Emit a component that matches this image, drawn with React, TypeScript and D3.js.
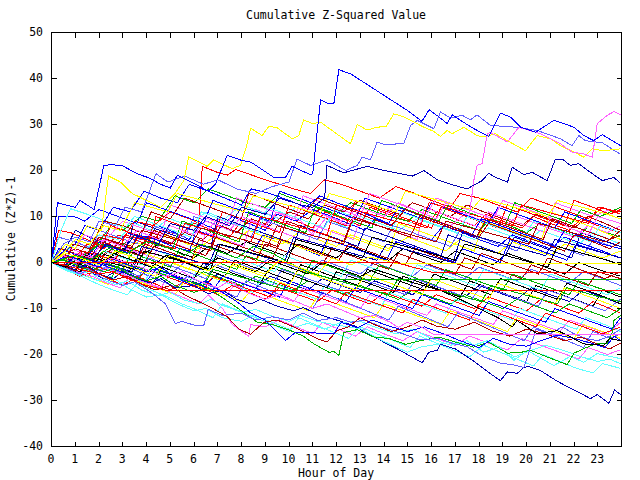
import React from 'react';
import * as d3 from 'd3';

const TITLE = 'Cumulative Z-Squared Value';
const X_LABEL = 'Hour of Day';
const Y_LABEL = 'Cumulative (Z*Z)-1';
const xTickValues = d3.range(0, 24);
const yTickValues = [-40, -30, -20, -10, 0, 10, 20, 30, 40, 50];

const COLORS: Record<string, string> = {
  R: '#ff0000', G: '#00b000', B: '#0000ff', M: '#ff60ff', C: '#60ffff',
  D: '#b00000', Y: '#ffff00', L: '#6060ff', K: '#000000', N: '#0000b0',
};

// each series: flat list of [hour, value] pairs
const m1 = [0,0, 0.4,2, 1,1, 1.5,4, 2.2,3, 2.8,6, 3.5,5, 4.2,3.5, 4.6,7, 5.4,6, 6,8.5, 6.8,7, 7.5,5.5, 8,9, 8.8,7.5, 9.5,10.5, 10.3,9, 11,7.5, 11.5,11, 12.3,9.5, 13,8, 13.4,12, 14.2,10.5, 15,9, 15.8,7.5, 16.2,11, 17,9.5, 17.8,8, 18.3,10.5, 19,9, 19.8,7.5, 20.3,10, 21,8.5, 21.8,7, 22.3,9.5, 23,8, 23.96,6.5];
const m2 = [0,0, 0.5,1.5, 1.2,0.5, 1.8,3, 2.5,8, 3,7, 3.8,10, 4.5,9, 5.2,14.5, 6,13, 6.6,16, 7.4,14.5, 8.2,13, 9,12, 9.6,15, 10.4,13.5, 11.2,12, 12,10.5, 12.6,13, 13.4,11.5, 14.2,10, 15,9, 15.6,11.5, 16.4,10, 17.2,8.5, 18,7, 18.5,9.5, 19.3,8, 20,6.5, 20.6,8.5, 21.4,7, 22.2,5.5, 22.6,8, 23.4,6.5, 23.96,5.5];
const m3 = [0,0, 0.5,-1, 1,1, 1.5,0, 2,4, 2.6,3, 3.2,6.5, 3.9,5, 4.5,8, 5.2,6.5, 5.8,5, 6.3,8.5, 7,7, 7.6,10, 8.3,8.5, 9,7, 9.5,10.5, 10.3,9, 11,11.5, 11.8,10, 12.5,8.5, 13.2,7, 13.6,9.5, 14.4,8, 15.2,6.5, 16,5, 16.5,8, 17.3,6.5, 18,5, 18.8,3.5, 19.4,6, 20.2,4.5, 21,3, 21.6,5.5, 22.4,4, 23.2,2.5, 23.96,1];
const m4 = [0,0, 0.6,-1, 1.2,2, 1.8,1, 2.5,0, 3,3, 3.7,2, 4.4,5.5, 5,4, 5.7,7.5, 6.4,6, 7,9.5, 7.8,8, 8.6,11.5, 9.4,10, 10,8.5, 10.6,12, 11.4,10.5, 12.2,9, 12.8,11.5, 13.6,10, 14.4,12.5, 15.2,11, 16,9.5, 16.8,8, 17.4,10.5, 18.2,9, 19,7.5, 19.6,10, 20.4,8.5, 21.2,7, 22,5.5, 22.6,8, 23.4,6.5, 23.96,8];
const m5 = [0,0, 0.5,2, 1,4, 1.5,3, 2,6, 2.8,5, 3.5,8.5, 4.2,7, 5,9.5, 5.8,8, 6.5,11, 7.3,9.5, 8,12.5, 8.8,11, 9.6,9.5, 10.3,12, 11,10.5, 11.8,9, 12.5,7.5, 13,10, 13.8,8.5, 14.6,7, 15.4,9.5, 16.2,8, 17,6.5, 17.8,5, 18.4,7.5, 19.2,6, 20,4.5, 20.6,7, 21.4,5.5, 22.2,4, 22.8,6.5, 23.5,5, 23.96,4];
const m6 = [0,0, 0.4,1.5, 1,0.5, 1.6,2.5, 2.2,1.5, 2.8,4, 3.5,3, 4.2,5.5, 5,4, 5.6,6.5, 6.4,5, 7,8, 7.8,6.5, 8.4,9.5, 9.2,8, 10,11, 10.8,9.5, 11.5,12.5, 12.3,11, 13,13.5, 13.8,12, 14.6,10.5, 15.2,13, 16,11.5, 16.8,10, 17.5,12.5, 18.2,11, 19,9.5, 19.8,8, 20.4,10.5, 21.2,9, 22,7.5, 22.6,10, 23.3,8.5, 23.96,7];
const m7 = [0,0, 0.5,-1.2, 1,0.5, 1.6,-0.5, 2.2,2.5, 2.8,1.5, 3.5,4.5, 4.2,3, 4.8,6, 5.5,4.5, 6.2,3, 6.8,5.5, 7.6,4, 8.3,7, 9,5.5, 9.7,4, 10.4,6.5, 11.2,5, 12,3.5, 12.6,6, 13.4,4.5, 14.2,3, 15,5.5, 15.8,4, 16.6,2.5, 17.2,5, 18,3.5, 18.8,2, 19.4,4.5, 20.2,3, 21,1.5, 21.6,4, 22.4,2.5, 23.2,1, 23.96,2.5];
const m8 = [0,0, 0.6,-1.5, 1.2,-0.5, 1.8,-2, 2.4,-1, 3,-2.5, 3.6,0.5, 4.3,-1, 5,-2.5, 5.6,0, 6.3,-1.5, 7,1.5, 7.8,0, 8.5,-1.5, 9.2,1, 10,-0.5, 10.8,-2, 11.4,0.5, 12.2,-1, 13,-2.5, 13.6,0, 14.4,-1.5, 15.2,-3, 15.8,-0.5, 16.6,-2, 17.4,-3.5, 18,-1, 18.8,-2.5, 19.6,-4, 20.2,-1.5, 21,-3, 21.8,-4.5, 22.4,-2, 23.2,-3.5, 23.96,-5];
const m9 = [0,0, 0.5,1, 1,-0.5, 1.6,2, 2.3,0.5, 3,3, 3.8,1.5, 4.5,4, 5.2,2.5, 6,1, 6.6,3.5, 7.4,2, 8.2,4.5, 9,3, 9.8,1.5, 10.4,4, 11.2,2.5, 12,1, 12.6,3.5, 13.4,2, 14.2,0.5, 14.8,3, 15.6,1.5, 16.4,0, 17,2.5, 17.8,1, 18.6,-0.5, 19.2,2, 20,0.5, 20.8,-1, 21.6,-2.5, 22.2,0, 23,-1.5, 23.96,-3];
const m10 = [0,0, 0.5,-1.5, 1,-0.5, 1.6,-2, 2.2,-3.5, 2.8,-1.5, 3.5,-3, 4.2,-4.5, 4.8,-2, 5.6,-3.5, 6.4,-5, 7,-2.5, 7.8,-4, 8.6,-5.5, 9.2,-3, 10,-4.5, 10.8,-6, 11.4,-3.5, 12.2,-5, 13,-6.5, 13.6,-4, 14.4,-5.5, 15.2,-7, 15.8,-4.5, 16.6,-6, 17.4,-7.5, 18,-5, 18.8,-6.5, 19.6,-8, 20.2,-5.5, 21,-7, 21.8,-8.5, 22.4,-6, 23.2,-7.5, 23.96,-9];
const m11 = [0,0, 0.6,-1.5, 1.2,-3, 1.8,-2, 2.4,-3.5, 3,-5, 3.6,-3, 4.3,-4.5, 5,-6, 5.6,-4, 6.3,-5.5, 7,-7, 7.6,-5, 8.3,-6.5, 9,-8, 9.6,-5.5, 10.4,-7, 11.2,-8.5, 11.8,-6, 12.6,-7.5, 13.4,-9, 14,-6.5, 14.8,-8, 15.6,-9.5, 16.2,-7, 17,-8.5, 17.8,-10, 18.4,-7.5, 19.2,-9, 20,-10.5, 20.6,-8, 21.4,-9.5, 22.2,-11, 22.8,-8.5, 23.5,-10, 23.96,-11];
const m12 = [0,0, 0.5,0.8, 1.1,-0.6, 1.7,-2, 2.3,0, 3,-1.5, 3.7,-3, 4.3,-1, 5,-2.5, 5.8,-4, 6.4,-2, 7.2,-3.5, 8,-5, 8.6,-3, 9.4,-4.5, 10.2,-6, 10.8,-4, 11.6,-5.5, 12.4,-7, 13,-5, 13.8,-6.5, 14.6,-8, 15.2,-6, 16,-7.5, 16.8,-9, 17.4,-7, 18.2,-8.5, 19,-10, 19.6,-8, 20.4,-9.5, 21.2,-11, 21.8,-9, 22.6,-10.5, 23.4,-12, 23.96,-10];
const m13 = [0,0, 0.3,3, 0.9,2, 1.5,1, 1.9,4.5, 2.7,3, 3.3,2, 3.6,6, 4.4,5, 5.1,3.5, 5.8,2.5, 6.1,7, 6.9,5.5, 7.7,4, 8.5,2.5, 8.9,6, 9.8,4.5, 10.6,3, 11.3,1.5, 11.6,5, 12.5,3.5, 13.3,2, 14.1,0.5, 14.5,4.5, 15.4,3, 16.3,1.5, 17,0, 17.3,3, 18.1,1.5, 18.9,0, 19.3,5, 20.1,3.5, 20.9,2, 21.7,0.5, 22.1,4, 23,2.5, 23.96,1];
const m14 = [0,0, 0.5,-1, 0.8,3, 1.6,1.5, 2.3,0, 2.7,4, 3.5,2.5, 4.3,1, 4.6,5, 5.5,3.5, 6.2,2, 6.5,6.5, 7.3,5, 8.1,3.5, 8.4,9, 9.2,7.5, 10,6, 10.8,4.5, 11.1,8, 11.9,6.5, 12.7,5, 13,9.5, 13.8,8, 14.6,6.5, 15.4,5, 15.7,12, 16.5,10.5, 17.3,9, 18.1,7.5, 18.4,11, 19.2,9.5, 20,8, 20.8,6.5, 21.2,13, 22,11.5, 22.8,10, 23.5,11.5, 23.96,10.5];
const m15 = [0,0, 0.6,-1.2, 1.3,-2.4, 1.6,0, 2.4,-1.5, 3.2,-3, 3.9,-4.5, 4.2,-1.5, 5,-3, 5.8,-4.5, 6.1,-2, 6.9,-3.5, 7.7,-5, 8.5,-6.5, 8.8,-3.5, 9.6,-5, 10.4,-6.5, 11.2,-8, 11.5,-5, 12.3,-6.5, 13.1,-8, 13.9,-9.5, 14.2,-6.5, 15,-8, 15.8,-9.5, 16.6,-11, 17,-8, 17.8,-9.5, 18.6,-11, 19.4,-12.5, 19.7,-10, 20.5,-11.5, 21.3,-13, 22.1,-14.5, 22.5,-12, 23.3,-13.5, 23.96,-15];
const m16 = [0,0, 0.4,1.8, 1.1,0.5, 1.9,-1, 2.3,2.5, 3.1,1, 3.9,-0.5, 4.3,3.5, 5.1,2, 5.9,0.5, 6.2,5, 7,3.5, 7.8,2, 8.6,0.5, 9,4, 9.8,2.5, 10.6,1, 11.4,-0.5, 11.8,3, 12.6,1.5, 13.4,0, 14.2,-1.5, 14.6,2, 15.4,0.5, 16.2,-1, 17,-2.5, 17.4,1, 18.2,-0.5, 19,-2, 19.8,-3.5, 20.2,-0.5, 21,-2, 21.8,-3.5, 22.6,-5, 23,-2, 23.96,-3.5];
const m17 = [0,0, 0.5,-1, 1,-2, 1.4,1, 2.2,-0.5, 3,-2, 3.4,3, 4.2,1.5, 5,0, 5.8,-1.5, 6.2,4, 7,2.5, 7.8,1, 8.6,-0.5, 9,6, 9.8,4.5, 10.6,3, 11.4,1.5, 11.8,7, 12.6,5.5, 13.4,4, 14.2,2.5, 14.6,8.5, 15.4,7, 16.2,5.5, 17,4, 17.8,2.5, 18.2,9, 19,7.5, 19.8,6, 20.6,4.5, 21,11, 21.8,9.5, 22.6,8, 23.3,6.5, 23.96,5];
const m18 = [0,0, 0.3,5.5, 1,4.5, 1.7,3, 2,7, 2.8,5.5, 3.6,4, 4,8.5, 4.8,7, 5.6,5.5, 6,10, 6.8,8.5, 7.6,7, 8.4,5.5, 8.8,9.5, 9.6,8, 10.4,6.5, 11.2,5, 11.6,9, 12.4,7.5, 13.2,6, 14,4.5, 14.4,8, 15.2,6.5, 16,5, 16.8,3.5, 17.2,7, 18,5.5, 18.8,4, 19.6,2.5, 20,6, 20.8,4.5, 21.6,3, 22.4,1.5, 22.8,5, 23.6,3.5, 23.96,3];
const m19 = [0,0, 0.6,-1, 1.2,-2, 1.6,0.5, 2.4,-1, 3.2,-2.5, 3.6,1, 4.4,-0.5, 5.2,-2, 6,-3.5, 6.4,0, 7.2,-1.5, 8,-3, 8.8,-4.5, 9.2,-1, 10,-2.5, 10.8,-4, 11.6,-5.5, 12,-2, 12.8,-3.5, 13.6,-5, 14.4,-6.5, 14.8,-3, 15.6,-4.5, 16.4,-6, 17.2,-7.5, 17.6,-4, 18.4,-5.5, 19.2,-7, 20,-8.5, 20.4,-5, 21.2,-6.5, 22,-8, 22.8,-9.5, 23.2,-6, 23.96,-7.5];
const m20 = [0,0, 0.5,2, 1,7, 1.6,5.5, 2.4,4, 3.1,2.5, 3.5,9, 4.3,7.5, 5.1,6, 5.9,4.5, 6.7,3, 7,10, 7.8,8.5, 8.6,7, 9.4,5.5, 10.2,4, 10.5,8, 11.3,6.5, 12.1,5, 12.9,3.5, 13.2,7.5, 14,6, 14.8,4.5, 15.6,3, 16.4,1.5, 16.7,6, 17.5,4.5, 18.3,3, 19.1,1.5, 19.5,5.5, 20.3,4, 21.1,2.5, 21.9,1, 22.3,6.5, 23.1,5, 23.96,3.5];
const m21 = [0,0, 0.3,7, 0.8,6.5, 1.5,5, 2.1,3.5, 2.5,8, 3.3,6.5, 4.1,5, 4.4,10, 5.2,8.5, 6,7, 6.8,5.5, 7.2,11, 8,9.5, 8.8,8, 9.6,6.5, 10,12.5, 10.8,11, 11.6,9.5, 12.4,8, 12.8,13.5, 13.6,12, 14.4,10.5, 15.2,9, 16,7.5, 16.4,12, 17.2,10.5, 18,9, 18.8,7.5, 19.2,12.5, 20,11, 20.8,9.5, 21.6,8, 22,13.5, 22.8,12, 23.5,10.5, 23.96,11.5];
const m22 = [0,0, 0.5,1.5, 1,3, 1.5,2, 2.2,6, 3,5, 3.5,9, 4.3,8, 5,11, 5.8,9.5, 6.2,8.5, 6.35,20.9, 6.98,19.6, 7.4,19, 7.75,20.2, 8.38,19.1, 9,18, 9.6,17, 10.2,16, 10.9,15, 11.5,18, 12.2,17, 13,15.5, 13.8,14, 14.5,16.5, 15.3,15, 16,13.5, 16.8,12, 17.2,15, 18,14, 18.8,12.5, 19.6,11, 20.2,14, 21,12.5, 21.8,11, 22.6,9.5, 23.2,12, 23.96,10.5];
const m23 = [0,0, 0.5,-0.8, 1,-1.8, 1.5,1, 2.2,0, 3,-1.5, 3.4,2, 4.2,0.5, 5,-1, 5.4,3, 6.2,1.5, 7,0, 7.8,-1.5, 8.2,1.5, 9,0, 9.8,-1.5, 10.6,-3, 11,0.5, 11.8,-1, 12.6,-2.5, 13.4,-4, 13.8,-0.5, 14.6,-2, 15.4,-3.5, 16.2,-5, 16.6,-1.5, 17.4,-3, 18.2,-4.5, 19,-6, 19.4,-2.5, 20.2,-4, 21,-5.5, 21.8,-7, 22.2,-4, 23,-5.5, 23.96,-7];
const m24 = [0,0, 0.6,-1.2, 1.2,-2.4, 1.8,-3.6, 2.2,-1, 3,-2.5, 3.8,-4, 4.6,-5.5, 5,-2.5, 5.8,-4, 6.6,-5.5, 7.4,-7, 7.8,-4, 8.6,-5.5, 9.4,-7, 10.2,-8.5, 10.6,-5.5, 11.4,-7, 12.2,-8.5, 13,-10, 13.4,-7, 14.2,-8.5, 15,-10, 15.8,-11.5, 16.2,-9, 17,-10.5, 17.8,-12, 18.6,-13.5, 19,-10.5, 19.8,-12, 20.6,-13.5, 21.4,-15, 21.8,-12.5, 22.6,-14, 23.4,-15.5, 23.96,-13];
const m25 = [0,0, 0.5,1.5, 1.1,0.5, 1.8,-1, 2.2,2.5, 3,1, 3.8,-0.5, 4.2,3, 5,1.5, 5.8,0, 6.6,-1.5, 7,2.5, 7.8,1, 8.6,-0.5, 9.4,-2, 9.8,1.5, 10.6,0, 11.4,-1.5, 12.2,-3, 12.6,0.5, 13.4,-1, 14.2,-2.5, 15,-4, 15.4,-0.5, 16.2,-2, 17,-3.5, 17.8,-5, 18.2,-1.5, 19,-3, 19.8,-4.5, 20.6,-6, 21,-2.5, 21.8,-4, 22.6,-5.5, 23.4,-7, 23.96,-5.5];
const m26 = [0,0, 0.4,3, 1,2, 1.7,0.5, 2.1,4.5, 2.9,3, 3.7,1.5, 4.1,6, 4.9,4.5, 5.7,3, 6.5,1.5, 6.9,5.5, 7.7,4, 8.5,2.5, 9.3,1, 9.7,5, 10.5,3.5, 11.3,2, 12.1,0.5, 12.5,4, 13.3,2.5, 14.1,1, 14.9,-0.5, 15.3,3, 16.1,1.5, 16.9,0, 17.7,-1.5, 18.1,2, 18.9,0.5, 19.7,-1, 20.5,-2.5, 20.9,1, 21.7,-0.5, 22.5,-2, 23.3,-3.5, 23.96,-2];
const m27 = [0,0, 0.6,-1.2, 1.2,-2.4, 1.8,-3.6, 2.4,-4.8, 2.8,-2.5, 3.6,-4, 4.4,-5.5, 5.2,-7, 5.6,-4, 6.4,-5.5, 7.2,-7, 8,-8.5, 8.4,-6, 9.2,-7.5, 10,-9, 10.8,-10.5, 11.2,-7.5, 12,-9, 12.8,-10.5, 13.6,-12, 14,-9, 14.8,-10.5, 15.6,-12, 16.4,-13.5, 16.8,-10.5, 17.6,-12, 18.4,-13.5, 19.2,-15, 19.6,-12, 20.4,-13.5, 21.2,-15, 22,-16.5, 22.4,-13.5, 23.2,-15, 23.96,-16.5];
const m28 = [0,0, 0.5,-1, 1,-2, 1.3,1.5, 2.1,0, 2.9,-1.5, 3.7,-3, 4.1,1, 4.9,-0.5, 5.7,-2, 6.5,-3.5, 6.9,-0.5, 7.7,-2, 8.5,-3.5, 9.3,-5, 9.7,-1.5, 10.5,-3, 11.3,-4.5, 12.1,-6, 12.5,-2.5, 13.3,-4, 14.1,-5.5, 14.9,-7, 15.3,-3.5, 16.1,-5, 16.9,-6.5, 17.7,-8, 18.1,-5, 18.9,-6.5, 19.7,-8, 20.5,-9.5, 20.9,-6, 21.7,-7.5, 22.5,-9, 23.3,-10.5, 23.96,-8];
const m29 = [0,0, 0.5,1, 1.1,-0.2, 1.7,-1.4, 2.1,2, 2.9,0.5, 3.7,-1, 4.5,-2.5, 4.9,1.5, 5.7,0, 6.5,-1.5, 7.3,-3, 7.7,0.5, 8.5,-1, 9.3,-2.5, 10.1,-4, 10.5,-0.5, 11.3,-2, 12.1,-3.5, 12.9,-5, 13.3,-1.5, 14.1,-3, 14.9,-4.5, 15.7,-6, 16.1,-2.5, 16.9,-4, 17.7,-5.5, 18.5,-7, 18.9,-3.5, 19.7,-5, 20.5,-6.5, 21.3,-8, 21.7,-4.5, 22.5,-6, 23.3,-7.5, 23.96,-9];
const m30 = [0,0, 0.3,10, 1,9.9, 1.4,9, 2,11.5, 2.8,10, 3.6,8.5, 4,13, 4.8,11.5, 5.6,10, 6.4,8.5, 6.8,13.5, 7.6,12, 8.4,10.5, 9.2,9, 9.6,15.5, 10.4,14, 11.2,12.5, 12,11, 12.8,9.5, 13.2,14, 14,12.5, 14.8,11, 15.6,9.5, 16,13, 16.8,11.5, 17.6,10, 18.4,8.5, 18.8,12, 19.6,10.5, 20.4,9, 21.2,7.5, 21.6,11, 22.4,9.5, 23.2,8, 23.96,6.5];
const m31 = [0,0, 0.5,1.5, 1,3, 1.4,6, 2.2,4.5, 3,9, 3.8,7.5, 4.6,6, 5,12.5, 5.8,11, 6.6,9.5, 7.4,8, 7.8,14, 8.6,12.5, 9.4,11, 10.2,9.5, 10.6,14.5, 11.4,13, 12.2,11.5, 13,10, 13.4,15, 14.2,13.5, 15,12, 15.8,10.5, 16.2,14, 17,12.5, 17.8,11, 18.6,9.5, 19,13.5, 19.8,12, 20.6,10.5, 21.4,9, 21.8,7.5, 22.6,6, 23,10, 23.96,8.5];
const m32 = [0,0, 0.6,2, 1.2,1, 2,4, 2.8,3, 3.5,6, 4.3,4.5, 5.1,3, 5.5,9, 6.3,7.5, 7.1,6, 7.9,4.5, 8.3,11, 9.1,9.5, 9.9,8, 10.7,6.5, 11.1,12, 11.9,10.5, 12.7,9, 13.5,7.5, 13.9,13.5, 14.7,12, 15.5,10.5, 16.3,9, 16.7,12.5, 17.5,11, 18.3,9.5, 19.1,8, 19.5,13, 20.3,11.5, 21.1,10, 21.9,8.5, 22.3,11.5, 23.1,10, 23.96,12];
const m33 = [0,0, 0.4,7, 0.8,11.7, 1.5,10.5, 2.3,9, 3.1,7.5, 3.5,10, 4.3,8.5, 5.1,7, 5.9,5.5, 6.3,11, 7.1,9.5, 7.9,8, 8.7,6.5, 9.1,12, 9.9,10.5, 10.7,9, 11.5,7.5, 11.9,11.5, 12.7,10, 13.5,8.5, 14.3,7, 14.7,11, 15.5,9.5, 16.3,8, 17.1,6.5, 17.5,10, 18.3,8.5, 19.1,7, 19.9,5.5, 20.3,9, 21.1,7.5, 21.9,6, 22.7,4.5, 23.1,8, 23.96,6.5];
const m34 = [0,0, 0.5,-0.5, 1,2, 1.8,0.5, 2.3,5, 3.1,3.5, 3.9,2, 4.3,7, 5.1,5.5, 5.9,4, 6.7,2.5, 7.1,8, 7.9,6.5, 8.7,5, 9.5,3.5, 9.9,9, 10.7,7.5, 11.5,6, 12.3,4.5, 12.7,10, 13.5,8.5, 14.3,7, 15.1,5.5, 15.5,10, 16.3,8.5, 17.1,7, 17.9,5.5, 18.3,9.5, 19.1,8, 19.9,6.5, 20.7,5, 21.1,9.5, 21.9,8, 22.7,6.5, 23.5,5, 23.96,7];
const m35 = [0,0, 0.5,-1, 1,-2, 1.5,-3, 2,-1, 2.8,-2.5, 3.6,-4, 4,-1.5, 4.8,-3, 5.6,-4.5, 6.4,-6, 6.8,-3, 7.6,-4.5, 8.4,-6, 9.2,-7.5, 9.6,-4.5, 10.4,-6, 11.2,-7.5, 12,-9, 12.4,-6.5, 13.2,-8, 14,-9.5, 14.8,-11, 15.2,-8, 16,-9.5, 16.8,-11, 17.6,-12.5, 18,-9.5, 18.8,-11, 19.6,-12.5, 20.4,-14, 20.8,-11, 21.6,-12.5, 22.4,-14, 23.2,-15.5, 23.96,-14];
const m36 = [0,0, 0.6,-1.2, 1.2,-2.4, 1.6,0.5, 2.4,-1, 3.2,-2.5, 4,-4, 4.4,-1.5, 5.2,-3, 6,-4.5, 6.8,-6, 7.2,-3, 8,-4.5, 8.8,-6, 9.6,-7.5, 10,-4, 10.8,-5.5, 11.6,-7, 12.4,-8.5, 12.8,-5.5, 13.6,-7, 14.4,-8.5, 15.2,-10, 15.6,-7, 16.4,-8.5, 17.2,-10, 18,-11.5, 18.4,-8.5, 19.2,-10, 20,-11.5, 20.8,-13, 21.2,-10, 22,-11.5, 22.8,-13, 23.6,-14.5, 23.96,-12];
const m37 = [0,0, 0.5,1, 1,-0.5, 1.5,-2, 2,1.5, 2.8,0, 3.6,-1.5, 4.4,-3, 4.8,0.5, 5.6,-1, 6.4,-2.5, 7.2,-4, 7.6,-0.5, 8.4,-2, 9.2,-3.5, 10,-5, 10.4,-1.5, 11.2,-3, 12,-4.5, 12.8,-6, 13.2,-2.5, 14,-4, 14.8,-5.5, 15.6,-7, 16,-3.5, 16.8,-5, 17.6,-6.5, 18.4,-8, 18.8,-4.5, 19.6,-6, 20.4,-7.5, 21.2,-9, 21.6,-5.5, 22.4,-7, 23.2,-8.5, 23.96,-10];
const m38 = [0,0, 0.4,2, 1,4, 1.4,8, 2,7, 2.6,12, 3.3,11, 3.9,15.5, 4.6,14, 5.3,13, 5.8,17, 6.6,15.5, 7.3,14, 8,12.5, 8.4,16, 9.2,15, 10,13.5, 10.7,12, 11.3,14.5, 12,13, 12.8,11.5, 13.5,10, 14.2,8.5, 14.6,12, 15.4,10.5, 16.2,9, 17,7.5, 17.7,6, 18.1,9.5, 18.9,8, 19.7,6.5, 20.5,5, 21.2,3.5, 21.6,7, 22.4,5.5, 23.2,4, 23.96,3];
const m39 = [0,0, 0.5,-1, 0.9,4, 1.6,3, 2.2,9, 3,8, 3.8,6.5, 4.2,11, 5,9.5, 5.6,14, 6.4,12.5, 7.2,11, 8,9.5, 8.3,15, 9.1,13.5, 9.8,12, 10.6,10.5, 11.2,14, 12,12.5, 12.8,11, 13.5,9.5, 14.3,8, 14.9,11.5, 15.7,10, 16.5,8.5, 17.3,7, 18,5.5, 18.4,8.5, 19.2,7, 20,5.5, 20.8,4, 21.6,2.5, 22,6, 22.8,4.5, 23.5,3, 23.96,4.5];
const m40 = [0,0, 0.6,-1.2, 1.2,-2.2, 1.8,-3.2, 2.3,-4.4, 2.9,-5.5, 3.3,-3, 4,-4.5, 4.8,-6, 5.5,-7.5, 6.2,-9, 6.6,-7, 7.2,-10, 7.6,-13.4, 8.31,-16.1, 8.38,-13.5, 9,-14, 9.6,-12.5, 10.3,-14, 11,-15.5, 11.4,-13, 12.1,-14.5, 12.8,-16, 13.3,-14, 14,-15.5, 14.8,-17, 15.4,-15, 16.2,-16.5, 17,-18, 17.6,-16, 18.4,-17.5, 19.2,-19, 19.8,-16.5, 20.6,-18, 21.4,-19.5, 22.2,-21, 22.6,-18.5, 23.4,-20, 23.96,-19];
const m41 = [0,0, 0.5,-1.2, 1,-2.4, 1.5,-3.6, 2,-4.8, 2.6,-6, 3.2,-7, 3.6,-4.5, 4.2,-6, 4.9,-7.5, 5.5,-9, 6.2,-10.5, 6.8,-12, 7.2,-9, 7.9,-10.5, 8.6,-12, 9.3,-13.5, 10,-15, 10.4,-12, 11.1,-13.5, 11.8,-15, 12.5,-16.5, 13,-14, 13.7,-15.5, 14.4,-17, 15.1,-18.5, 15.5,-16, 16.2,-17.5, 16.9,-19, 17.6,-20.5, 18.2,-18, 18.9,-19.5, 19.6,-21, 20.3,-22.5, 20.7,-20, 21.4,-21.5, 22.1,-23, 22.8,-24, 23.2,-22, 23.96,-23];
const m42 = [0,0, 0.5,1, 1,-0.2, 1.5,-1.4, 2,-2.6, 2.5,0.5, 3.2,-1, 3.9,-2.5, 4.6,-4, 5.3,-5.5, 5.7,-3, 6.4,-4.5, 7.1,-6, 7.8,-7.5, 8.2,-4, 8.9,-5.5, 9.6,-7, 10.3,-8.5, 11,-10, 11.4,-6.5, 12.1,-8, 12.8,-9.5, 13.5,-11, 14.2,-12.5, 14.6,-9.5, 15.3,-11, 16,-12.5, 16.7,-14, 17.1,-11, 17.8,-12.5, 18.5,-14, 19.2,-15.5, 19.9,-17, 20.3,-14, 21,-15.5, 21.7,-17, 22.4,-18.5, 22.8,-15, 23.5,-16.5, 23.96,-15.5];
const m43 = [0,0, 0.5,-1, 1,-2, 1.3,1, 2,0, 2.7,-1, 3.4,-2, 3.8,3.5, 4.5,2.5, 5.2,1.5, 5.9,0.5, 6.6,-0.5, 7,4, 7.7,3, 8.4,2, 9.1,1, 9.8,0, 10.2,5.5, 10.9,4.5, 11.6,3.5, 12.3,2.5, 13,1.5, 13.7,0.5, 14.1,4, 14.8,3, 15.5,2, 16.2,1, 16.9,0, 17.3,6.5, 18,5.5, 18.7,4.5, 19.4,3.5, 20.1,2.5, 20.8,1.5, 21.2,5, 21.9,4, 22.6,3, 23.3,2, 23.96,1];
const m44 = [0,0, 0.5,-1, 1,-2, 1.3,2.5, 2,1.5, 2.7,0.5, 3.1,6, 3.8,5, 4.5,4, 5.2,3, 5.6,8.5, 6.3,7.5, 7,6.5, 7.7,5.5, 8.4,4.5, 8.8,10, 9.5,9, 10.2,8, 10.9,7, 11.6,6, 12,12.5, 12.7,11.5, 13.4,10.5, 14.1,9.5, 14.8,8.5, 15.5,7.5, 15.9,13, 16.6,12, 17.3,11, 18,10, 18.7,9, 19.4,8, 19.8,12.5, 20.5,11.5, 21.2,10.5, 21.9,9.5, 22.6,8.5, 23,12, 23.96,11];
const m45 = [0,0, 0.5,0.5, 1,-0.5, 1.5,-1.5, 2,-2.5, 2.5,-3.5, 2.9,0, 3.6,-1, 4.3,-2, 5,-3, 5.7,-4, 6.4,-5, 6.8,-1.5, 7.5,-2.5, 8.2,-3.5, 8.9,-4.5, 9.6,-5.5, 10.3,-6.5, 10.7,-2, 11.4,-3, 12.1,-4, 12.8,-5, 13.5,-6, 14.2,-7, 14.6,-3.5, 15.3,-4.5, 16,-5.5, 16.7,-6.5, 17.4,-7.5, 18.1,-8.5, 18.5,-5, 19.2,-6, 19.9,-7, 20.6,-8, 21.3,-9, 21.7,-5.5, 22.4,-6.5, 23.1,-7.5, 23.96,-8.5];
const m46 = [0,0, 0.5,1.5, 1,3, 1.5,2, 2,5.5, 2.7,4.5, 3.4,3.5, 3.8,7, 4.5,6, 5.2,5, 5.9,4, 6.3,7.5, 7,6.5, 7.7,5.5, 8.4,4.5, 9.1,3.5, 9.5,8, 10.2,7, 10.9,6, 11.6,5, 12.3,4, 12.7,9.5, 13.4,8.5, 14.1,7.5, 14.8,6.5, 15.5,5.5, 16.2,4.5, 16.6,9, 17.3,8, 18,7, 18.7,6, 19.4,5, 20.1,4, 20.5,8.5, 21.2,7.5, 21.9,6.5, 22.6,5.5, 23.3,4.5, 23.96,6];
const m47 = [0,0, 0.5,2, 1,5, 1.6,4, 2.2,8, 2.9,7, 3.5,13, 4.2,12, 4.9,11, 5.3,15, 6,14, 6.7,13, 7.4,12, 8.1,11, 8.5,14.5, 9.2,13.5, 9.9,12.5, 10.6,11.5, 11.3,10.5, 11.7,15, 12.4,14, 13.1,13, 13.8,12, 14.5,11, 14.9,15.5, 15.6,14.5, 16.3,13.5, 17,12.5, 17.7,11.5, 18.1,14, 18.8,13, 19.5,12, 20.2,11, 20.9,10, 21.3,13.5, 22,12.5, 22.7,11.5, 23.4,10.5, 23.96,9.5];
const m48 = [0,0, 0.5,-1, 1,-2, 1.4,1.5, 2.1,0.5, 2.8,-0.5, 3.5,-1.5, 3.9,2.5, 4.6,1.5, 5.3,0.5, 6,-0.5, 6.7,-1.5, 7.1,4, 7.8,3, 8.5,2, 9.2,1, 9.9,0, 10.3,5, 11,4, 11.7,3, 12.4,2, 13.1,1, 13.5,5.5, 14.2,4.5, 14.9,3.5, 15.6,2.5, 16.3,1.5, 17,0.5, 17.4,4, 18.1,3, 18.8,2, 19.5,1, 20.2,0, 20.9,-1, 21.3,3.5, 22,2.5, 22.7,1.5, 23.4,0.5, 23.96,-0.5];

const t1 = [0,0, 0.25,13, 0.6,12.5, 1,12, 1.2,13.5, 1.8,11.5, 2.2,21, 2.5,21.3, 3,21, 3.6,19.3, 4.1,18.4, 4.6,17, 5,16.2, 5.3,19, 6,17.2, 6.6,15.5, 6.9,17, 7.4,23.3, 8,22.2, 8.4,21.8, 9.36,18.5, 9.85,18.5, 10.13,20.9, 10.9,19.1, 11,19.3, 11.33,35.4, 11.63,34.6, 11.89,34.6, 12.1,41.9, 12.6,41, 13.2,39, 13.8,37, 14.4,35, 15,33, 15.6,30.7, 15.9,33.2, 16.3,31.7, 16.66,30.2, 16.87,32.1, 17.22,30.9, 17.78,29.1, 18.41,27.4, 18.9,32.5, 19.33,31.6, 19.75,29.4, 20.38,28.3, 21.15,30.9, 21.57,30.2, 22,29.4, 22.41,27.6, 22.83,26.5, 23.19,27.8, 23.96,25.4];
const t2 = [0,0, 0.5,4, 1,5.5, 1.6,4.5, 2,9, 2.7,8, 3.1,12, 3.8,11, 4.4,19.3, 4.9,17.5, 5.6,18.8, 6.4,17, 7,18, 7.8,16, 8.6,15, 9.3,16.5, 10,17.5, 10.34,22.5, 10.9,21.1, 11.63,22.3, 12.38,20, 12.87,21.1, 13.08,22.9, 13.43,22.3, 13.71,26.2, 13.99,25.7, 14.83,25.8, 15.12,29.8, 15.4,30.9, 16.1,29.1, 16.38,32.7, 16.8,31.4, 17.29,32, 17.64,31, 17.92,32.1, 18.48,29.8, 19.6,29.4, 20.45,28.7, 21.43,26.9, 21.92,25.4, 22.2,27.6, 22.48,26.5, 23.2,26, 23.96,23.5];
const t3 = [0,0, 0.6,4, 1,3, 1.5,8, 2.1,7, 2.4,18.8, 2.9,17.5, 3.4,15, 4,13.5, 4.6,12, 5.2,15, 5.57,17.8, 5.78,23, 6.56,20.9, 6.83,22.3, 7.6,20.4, 7.96,21.1, 8.24,25.8, 8.38,29.2, 8.87,27.6, 9.15,29.6, 9.5,29.3, 10.13,26.9, 10.41,27.6, 10.62,31, 10.98,30.2, 11.33,30.5, 12.59,25.8, 12.87,30, 13.29,28.8, 13.7,29.4, 14.1,29.6, 14.41,32.3, 14.83,31.7, 15.68,29.4, 16.1,28.5, 16.38,27.4, 16.66,28.7, 16.87,28, 17.36,29.4, 17.92,27.6, 18.2,27.3, 18.69,28, 19.19,26.5, 19.96,24.3, 20.45,27.6, 21.01,26.9, 21.43,25.4, 22,24, 22.41,22.9, 22.77,24.7, 23.26,24.3, 23.96,24.7];
const t4 = [0,0, 0.6,-1, 1,2, 1.7,1, 2.2,5, 3,3.5, 3.6,7, 4.5,5, 5,8, 6,6, 6.5,9, 7.5,7, 8,10, 9,8, 9.5,11, 10.5,9, 11,6, 11.6,10, 12.5,8, 13,12, 14,10, 14.6,13, 15.5,11, 16.2,9.5, 16.6,13, 17.2,11, 17.6,10.5, 17.78,17.8, 17.92,21.1, 18.13,21.5, 18.35,28, 18.48,28.3, 19.19,26.2, 19.68,29.4, 20.59,28, 21.43,25.8, 21.92,24, 22.41,23.6, 22.77,22.9, 22.98,30.2, 23.4,32, 23.68,32.8, 23.96,32.1];
const t5 = [0,0, 0.5,-1, 1,1.5, 1.7,0.5, 2.3,4, 3,2.5, 3.5,6, 4.5,4, 5,8.5, 6,7, 6.5,10, 7.5,8, 8,12, 9,10.5, 9.6,14, 10.5,12.5, 11,12, 11.5,14, 11.6,21.1, 12.3,19.5, 13.29,20.9, 14,20, 14.5,19.5, 15.2,18.8, 15.68,20, 16.24,18, 16.8,17, 17.5,16, 18.13,17.8, 18.41,19.4, 18.69,18.5, 19.2,17.5, 19.4,20.7, 19.89,19.1, 20.24,19.6, 20.87,17.8, 21.22,22.5, 21.5,22.5, 21.85,21.1, 22.2,21.5, 22.69,19.6, 23.19,17.8, 23.68,18.5, 23.96,17.2];
const b1 = [0,0, 0.5,-1, 1,-1.5, 1.5,-0.5, 2,-2.5, 2.6,-3.5, 3,-2, 3.6,-3.5, 4.2,-4.5, 4.6,-3.5, 5.2,-5.5, 6,-5, 6.6,-6.8, 7.2,-6, 7.8,-8, 8.4,-9, 8.8,-8, 9.5,-9.5, 10.2,-10.5, 10.6,-9.8, 11.2,-11.2, 12,-12.5, 12.73,-13.7, 13.57,-16.2, 14.6,-18.9, 15.61,-21.8, 15.89,-19.5, 16.24,-19.1, 16.38,-17.8, 17.01,-18.8, 17.71,-21.2, 18.3,-23.5, 18.9,-25.7, 19.19,-23.8, 19.61,-24.1, 19.89,-22.8, 20.1,-22.6, 20.59,-23.5, 21.2,-25.5, 21.71,-27, 22.2,-28.2, 22.69,-29.6, 22.98,-28.7, 23.47,-30.6, 23.71,-27.7, 23.96,-28.7];
const c1 = [0,0, 0.5,-1.5, 1,-2.5, 1.6,-2, 2,-3.5, 2.7,-4.8, 3.2,-4, 3.8,-6, 4.5,-7.2, 5,-6.5, 5.6,-8.2, 6.3,-9, 6.7,-8, 7.3,-9.5, 8,-10.8, 8.6,-10.2, 9.2,-11.5, 10,-12.8, 10.5,-11.5, 11.2,-12.8, 12,-13.6, 13.01,-14.4, 13.85,-16.8, 14.98,-19.5, 15.54,-18.4, 16.24,-17.8, 17,-17.2, 17.78,-18, 18.35,-17, 18.9,-18.5, 19.47,-21.3, 20.03,-19.1, 20.6,-20.8, 21.15,-22.4, 21.85,-20.4, 22.41,-21.7, 22.98,-19.8, 23.4,-20.3, 23.96,-20.9];
const c2 = [0,0, 1,-2.2, 2,-4, 2.5,-3, 3.2,-5.5, 4,-7.5, 4.6,-7, 5.3,-9, 6,-10.5, 6.5,-10, 7.2,-12, 8,-12.8, 8.5,-11.5, 9.3,-13, 10,-14.5, 10.8,-13.2, 11.5,-14.5, 12.2,-13, 13,-12.8, 13.6,-14, 14.5,-15.5, 15.2,-14.5, 16,-16.5, 16.8,-18, 17.5,-17, 18.2,-19.5, 18.8,-18.5, 19.5,-20.5, 20,-19.5, 20.8,-18, 21.5,-19, 22.3,-20.5, 23,-21.5, 23.5,-21, 23.96,-22];
const g1 = [0,0, 0.5,-1, 1,0.5, 1.6,-0.8, 2.2,-2, 2.8,-1, 3.4,-3, 4,-4, 4.6,-3, 5.2,-5, 6,-6.5, 6.6,-5.5, 7.3,-8, 8,-10.5, 8.66,-13, 9.3,-13.5, 10.06,-14.8, 10.6,-16, 11.05,-17.7, 11.68,-19.5, 11.9,-19.4, 12.1,-20.2, 12.31,-15.2, 12.87,-14.6, 13.57,-16.2, 14.2,-16.5, 14.91,-17.8, 15.54,-17, 16.31,-16.2, 17,-17.3, 17.78,-18.4, 18.41,-17.3, 19.19,-19.7, 19.7,-19.6, 20.17,-19.1, 20.9,-20.6, 21.71,-22.2, 22,-19.7, 22.56,-18.4, 23,-17.5, 23.4,-17.7, 23.61,-15.2, 23.68,-12.6, 23.96,-11.5];
const l2 = [0,0, 0.6,-1.2, 1.2,-2.5, 1.6,-1.5, 2.2,-3.5, 3,-5, 3.5,-4.2, 4.2,-6.5, 4.8,-9, 5.22,-13.3, 5.5,-12.8, 6.06,-13.7, 6.41,-13.7, 6.6,-10.2, 7.2,-11.5, 8,-11, 8.6,-12.5, 9.3,-11.8, 10,-12.5, 10.6,-11, 11.2,-12.6, 12,-12, 12.6,-13, 13.2,-12.5, 14,-14.2, 14.8,-15.5, 15.5,-16.8, 16.3,-16.5, 16.9,-17.6, 17.5,-18.3, 18.2,-20.5, 18.9,-21.9, 19.4,-22.2, 19.89,-22.8, 20.1,-19.5, 20.4,-14.5, 21,-15.5, 21.5,-14, 22,-15.5, 22.5,-16.5, 23,-17, 23.5,-16, 23.96,-14.5];
const d1 = [0,0, 0.5,-0.8, 1,-1.8, 1.5,-1, 2,-2.5, 2.6,-3.8, 3.2,-3, 3.8,-4.8, 4.4,-6, 5,-5, 5.6,-7, 6.2,-8.5, 6.8,-10, 7.4,-11.8, 7.9,-14.5, 8.38,-15.6, 8.94,-13, 9.5,-12.5, 10.2,-14, 10.8,-15.5, 11.19,-16.6, 11.6,-17.3, 12.03,-14.8, 12.5,-14, 13,-12, 13.6,-13.5, 14.3,-15, 15,-14, 15.6,-12.5, 16.2,-13.8, 17,-14.5, 17.8,-13, 18.5,-14.8, 19.3,-16, 20,-14.5, 20.8,-15.5, 21.6,-17, 22.3,-16.2, 23,-17.8, 23.5,-18.8, 23.96,-17.5];
const b2 = [0,0, 0.7,1.5, 1.2,0.5, 2,-1, 2.5,1, 3.2,-0.5, 4,-2, 4.6,-1, 5.3,-3.5, 6,-5, 6.5,-4, 7.2,-6.5, 7.8,-8.5, 8.4,-11, 9,-12.5, 9.85,-17, 10.27,-15.2, 11,-15.3, 11.89,-15.5, 12.2,-13, 12.9,-14.2, 13.5,-12.5, 14.2,-13.8, 15,-15, 15.7,-14, 16.5,-15.5, 17.2,-17, 18,-18.5, 18.6,-16.5, 19.3,-17.8, 20,-18.2, 20.6,-17, 21.3,-15.8, 22,-16.5, 22.7,-17.5, 23.3,-18.5, 23.7,-16, 23.96,-17];
const k2 = [0,0, 0.6,-1, 1.2,1, 2,-0.5, 2.6,2, 3.4,0.5, 4.2,-1, 4.8,1.5, 5.6,0, 6.4,-1.5, 7,1, 7.8,-0.5, 8.6,-2, 9.2,0.5, 10,-1, 10.8,-2.5, 11.4,0, 12.2,-1.5, 13,-3, 13.6,-1.5, 14.5,-3, 15.3,-4.5, 16.4,-6.1, 17,-7.5, 17.6,-9, 18.2,-10.5, 18.8,-12, 19.4,-14, 19.6,-12.6, 20.45,-15.5, 21.3,-14.8, 21.8,-16, 22.4,-17.7, 23.26,-18, 23.5,-16.5, 23.96,-17];
const h1 = [0,0, 14.5,0, 15.2,-1, 16,-2.1, 24,-2.1];
const h2 = [0,0, 0.5,-0.5, 1.2,-1.5, 2,-2.5, 2.6,-2, 3.2,-3.5, 4,-5, 4.87,-6.1, 24,-6.1];
const h3 = [0,0, 1,1.5, 1.6,0.5, 2.4,3, 3.2,2, 4,4.5, 5,3, 5.6,1.5, 6.3,4, 7,2.5, 7.8,1, 8.5,3.5, 9.3,2, 10,0, 10.6,-1.5, 11.3,-2.8, 11.9,-3.7, 24,-3.7];
const h4 = [0,0, 0.6,2, 1.2,1, 2,-0.5, 2.7,2.5, 3.5,1, 4.3,-1, 5,1.5, 5.8,0, 6.6,-1.8, 7.3,0.5, 8.1,-1, 9,-2.5, 9.6,0.5, 10.4,-1, 11.2,-2.5, 11.8,1, 12.6,-0.5, 13.4,1.2, 14,0.5, 14.55,-0.3, 24,-0.3];
const h6 = [0,0, 0.5,1.5, 1,0.5, 1.8,-1, 2.5,1, 3.2,0, 4,-1.5, 4.8,-3, 5.5,-2, 6.2,-4, 7,-5.5, 7.5,-4, 8.2,-6.5, 9,-8, 9.6,-7, 10.3,-8.5, 11,-10, 11.6,-9, 12.3,-10.5, 13,-12, 13.6,-11.5, 14.27,-13, 14.6,-14.1, 14.98,-13, 15.61,-14.1, 16.1,-15.7, 24,-15.7];

const seriesData = [m1, m2, m3, m4, m5, m6, m7, m8, m9, m10, m11, m12, m13, m14, m15, m16, m17, m18, m19, m20,
  m21, m22, m23, m24, m25, m26, m27, m28, m29, m30, m31, m32, m33, m34, m35, m36, m37,
  m38, m39, m40, m41, m42, m43, m44, m45, m46, m47, m48,
  t2, t3, t4, t5, t1, b1, c1, c2, g1, l2, d1, b2, k2, h6, h3, h4, h2, h1];
const seriesColors = ['R','G','B','M','C','D','Y','L','K','N','R','G','B','M','C','D','Y','L','K','N',
  'R','R','G','M','C','D','Y','L','K','B','M','G','C','D','R','B','Y',
  'B','D','M','C','L','N','R','G','D','Y','K',
  'L','Y','M','N','B','N','C','C','G','L','D','B','K','M','G','Y','R','R'];

const W = 640, H = 480;
const PL = 51, PR = 621, PT = 32, PB = 446;
const FONT = '"DejaVu Sans Mono", monospace';

export default function App() {
  const x = d3.scaleLinear().domain([0, 24]).range([PL, PR]);
  const y = d3.scaleLinear().domain([-40, 50]).range([PB, PT]);
  const line = d3.line<[number, number]>().x(d => x(d[0])).y(d => y(d[1]));
  const toPairs = (arr: number[]) => {
    const out: [number, number][] = [];
    for (let i = 0; i < arr.length; i += 2) out.push([arr[i], arr[i + 1]]);
    return out;
  };
  const tickLen = 5;
  return (
    <svg width={W} height={H} style={{ position: 'absolute', left: 0, top: 0, background: '#fff' }}
      fontFamily={FONT} fontSize={11.5}>
      <rect x={0} y={0} width={W} height={H} fill="#fff" />
      <g transform="translate(0.5,0.5)">
        <clipPath id="plotclip"><rect x={PL} y={PT} width={PR - PL} height={PB - PT} /></clipPath>
        <g clipPath="url(#plotclip)">
          {seriesData.map((s, i) => (
            <path key={i} d={line(toPairs(s)) || ''} fill="none" stroke={COLORS[seriesColors[i]]}
              strokeWidth={1} shapeRendering="crispEdges" />
          ))}
        </g>
        <rect x={PL} y={PT} width={PR - PL} height={PB - PT} fill="none" stroke="#000" strokeWidth={1} shapeRendering="crispEdges" />
        {xTickValues.map(t => (
          <g key={'x' + t}>
            <line x1={Math.round(x(t))} x2={Math.round(x(t))} y1={PB} y2={PB - tickLen} stroke="#000" shapeRendering="crispEdges" />
            <line x1={Math.round(x(t))} x2={Math.round(x(t))} y1={PT} y2={PT + tickLen} stroke="#000" shapeRendering="crispEdges" />
          </g>
        ))}
        {yTickValues.map(t => (
          <g key={'y' + t}>
            <line x1={PL} x2={PL + tickLen} y1={Math.round(y(t))} y2={Math.round(y(t))} stroke="#000" shapeRendering="crispEdges" />
            <line x1={PR} x2={PR - tickLen} y1={Math.round(y(t))} y2={Math.round(y(t))} stroke="#000" shapeRendering="crispEdges" />
          </g>
        ))}
      </g>
      {xTickValues.map(t => (
        <text key={'xl' + t} x={x(t)} y={463} textAnchor="middle" fill="#000">{t}</text>
      ))}
      {yTickValues.map(t => (
        <text key={'yl' + t} x={43} y={y(t) + 4} textAnchor="end" fill="#000">{t}</text>
      ))}
      <text x={(PL + PR) / 2} y={19} textAnchor="middle" fill="#000">{TITLE}</text>
      <text x={(PL + PR) / 2} y={477} textAnchor="middle" fill="#000">{X_LABEL}</text>
      <text transform={`translate(15,${(PT + PB) / 2}) rotate(-90)`} textAnchor="middle" fill="#000">{Y_LABEL}</text>
    </svg>
  );
}
